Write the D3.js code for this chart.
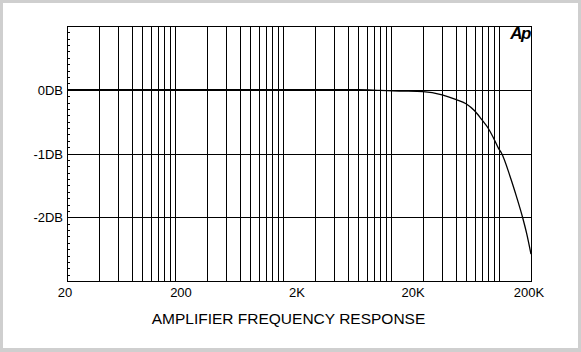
<!DOCTYPE html>
<html>
<head>
<meta charset="utf-8">
<script src="https://cdn.jsdelivr.net/npm/d3@7"></script>
<style>
  body { margin: 0; background: #fff; }
  text { font-family: "Liberation Sans", Arial, sans-serif; fill: #000; }
</style>
</head>
<body>
<script>
// measured response (Hz, dB)
var freqs  = [10, 1000, 5000, 8000, 12000, 20000, 30000, 40000, 50000, 60000, 70000,
              80000, 90000, 100000, 107000, 128000, 147000, 167000, 182000, 200000];
var levels = [0, 0, 0, -0.01, -0.02, -0.03, -0.08, -0.15, -0.22, -0.33, -0.47,
              -0.6, -0.76, -0.92, -1.0, -1.36, -1.68, -2.0, -2.25, -2.58];

var yGrid = [0, -1, -2];
var yLabels = ["0DB", "-1DB", "-2DB"];
var xLabelValues = [20, 200, 2000, 20000, 200000];
var xLabels = ["20", "200", "2K", "20K", "200K"];
var title = "AMPLIFIER FREQUENCY RESPONSE";

var W = 581, H = 352;
var margin = {top: 26, right: 50, bottom: 71, left: 67},
    width = W - margin.left - margin.right,
    height = H - margin.top - margin.bottom;

var svg = d3.select("body").append("svg")
    .attr("width", W)
    .attr("height", H);

// window frame
svg.append("rect").attr("width", W).attr("height", H).attr("fill", "#cfcfcf");
svg.append("rect").attr("x", 3).attr("y", 3)
    .attr("width", W - 6).attr("height", H - 7).attr("fill", "#fff");

var g = svg.append("g")
    .attr("transform", "translate(" + margin.left + "," + margin.top + ")");

var x = d3.scaleLog().domain([10, 200000]).range([0, width]);
var y = d3.scaleLinear().domain([-3, 1]).range([height, 0]);
// labels are spread evenly along the axis, independent of the grid
var xl = d3.scaleLog().domain([20, 200000]).range([-2, width - 2]);

var grid = g.append("g").attr("shape-rendering", "crispEdges")
    .attr("stroke", "#000").attr("stroke-width", 1);

// vertical log grid
grid.selectAll(".vx")
  .data(x.ticks().filter(function(d) { return d > 10 && d < 200000; }))
  .enter().append("line")
    .attr("x1", function(d) { return Math.round(x(d)) + 0.5; })
    .attr("x2", function(d) { return Math.round(x(d)) + 0.5; })
    .attr("y1", 0).attr("y2", height);

// horizontal dB grid
grid.selectAll(".hy")
  .data(yGrid)
  .enter().append("line")
    .attr("x1", 0).attr("x2", width)
    .attr("y1", function(d) { return Math.round(y(d)) + 0.5; })
    .attr("y2", function(d) { return Math.round(y(d)) + 0.5; });

// 0.1 dB minor ticks on the left axis
grid.selectAll(".mt")
  .data(y.ticks(40))
  .enter().append("line")
    .attr("x1", 0).attr("x2", 3)
    .attr("y1", function(d) { return Math.round(y(d)) + 0.5; })
    .attr("y2", function(d) { return Math.round(y(d)) + 0.5; });

// frame
grid.append("rect")
    .attr("x", 0.5).attr("y", 0.5)
    .attr("width", width).attr("height", height)
    .attr("fill", "none");

// response curve
var line = d3.line()
    .x(function(d, i) { return x(freqs[i]); })
    .y(function(d) { return y(d); })
    .curve(d3.curveMonotoneX);

g.append("path")
    .datum(levels)
    .attr("d", line)
    .attr("fill", "none")
    .attr("stroke", "#000")
    .attr("stroke-width", 1.3);

// y labels
g.selectAll(".yl")
  .data(yGrid)
  .enter().append("text")
    .attr("x", -4)
    .attr("y", function(d) { return y(d) + 5; })
    .attr("text-anchor", "end")
    .style("font-size", "13px")
    .text(function(d, i) { return yLabels[i]; });

// x labels
g.selectAll(".xl")
  .data(xLabelValues)
  .enter().append("text")
    .attr("x", function(d) { return xl(d); })
    .attr("y", height + 16)
    .attr("text-anchor", "middle")
    .style("font-size", "13px")
    .text(function(d, i) { return xLabels[i]; });

// title
svg.append("text")
    .attr("x", W / 2 - 2)
    .attr("y", 324)
    .attr("text-anchor", "middle")
    .style("font-size", "15.5px")
    .text(title);

// Ap logo
g.append("text")
    .attr("x", width - 1)
    .attr("y", 13)
    .attr("text-anchor", "end")
    .style("font-size", "17px")
    .style("font-weight", "bold")
    .style("font-style", "italic")
    .style("letter-spacing", "-1.5px")
    .text("Ap");
</script>
</body>
</html>
